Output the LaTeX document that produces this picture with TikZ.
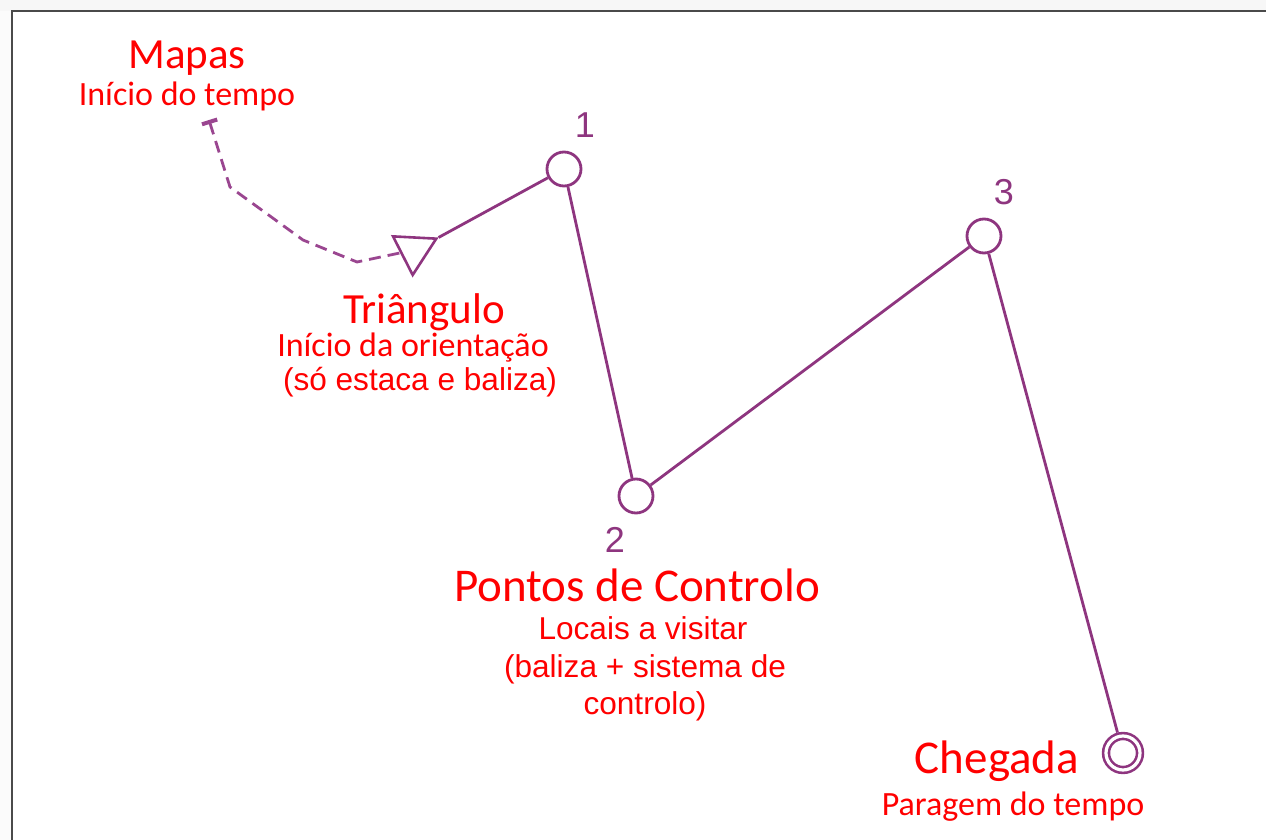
\documentclass[tikz,border=0pt]{standalone}
\usepackage{fontspec}
\setmainfont{Carlito}
\newfontfamily\arialfont{Liberation Sans}
\usepackage{tikz}
\usetikzlibrary{positioning,arrows.meta,shapes.geometric}
\definecolor{RoutePurple}{HTML}{8E357F}
\definecolor{DashPurple}{HTML}{9A4690}
\definecolor{LabelRed}{HTML}{FF0000}
\definecolor{FrameGray}{HTML}{4A4A4A}

\begin{document}
\begin{tikzpicture}[x=0.5pt, y=-0.5pt,
  every node/.style={inner sep=0pt},
  CP/.style={draw=RoutePurple, circle, line width=1.4pt,
             minimum size=17pt},
  FIN/.style={draw=RoutePurple, circle, line width=1.3pt,
              double=white, double distance=1.6pt,
              minimum size=17pt, outer sep=2.1pt},
  TRI/.style={draw=RoutePurple, regular polygon, regular polygon sides=3,
              shape border rotate=177, line width=1.3pt,
              minimum size=25pt},
  NUM/.style={font=\arialfont\fontsize{18}{20}\selectfont,
              text=RoutePurple, anchor=base},
  BIG/.style={font=\fontsize{21.5}{24}\selectfont, text=LabelRed, anchor=base},
  HEAD/.style={font=\fontsize{23.5}{26}\selectfont, text=LabelRed, anchor=base},
  SUB/.style={font=\fontsize{17}{20}\selectfont, text=LabelRed, anchor=base},
  ASUB/.style={font=\arialfont\fontsize{15.8}{18.5}\selectfont,
               text=LabelRed, anchor=base},
  leg/.style={RoutePurple, line width=1.4pt},
  RT/.style={DashPurple, line width=1.4pt, dash pattern=on 6pt off 3.5pt,
             {Bar[width=8pt, line width=2pt]}-},
]

  % Frame
  \useasboundingbox (0,0) rectangle (1266,840);
  \fill[gray!6] (0,0) rectangle (1266,11);
  \fill[gray!3] (0,11) rectangle (12,840);
  \draw[FrameGray, line width=1pt] (12,840) -- (12,11) -- (1266,11);

  % Main nodes
  \node[TRI] (tri) at (414,250) {};
  \node[CP]  (c1)  at (564,169) {};
  \node[CP]  (c2)  at (636,496) {};
  \node[CP]  (c3)  at (984,236) {};
  \node[FIN] (fin) at (1123,753) {};

  % Route to the triangle
  \coordinate (mapstart) at (209,120);
  \coordinate (bend1) at (230,187);
  \coordinate (bend2) at (303,240);
  \coordinate (bend3) at (357,262);

  % Legs
  \draw[RT] (mapstart) -- (bend1) -- (bend2) -- (bend3) -- (tri);
  \draw[leg] (tri.corner 2) -- (c1);
  \draw[leg] (c1) -- (c2);
  \draw[leg] (c2) -- (c3);
  \draw[leg] (c3) -- (fin);

  % Numbers
  \node[NUM] (n1) at (585,138) {1};
  \node[NUM] (n2) at (615,552) {2};
  \node[NUM] (n3) at (1004,205) {3};

  % Labels
  \node[BIG] (mapas) at (187,69)  {Mapas};
  \node[SUB] (mapasb) at (187,106) {Início do tempo};

  \node[BIG]  (trilab)  at (424,323) {Triângulo};
  \node[SUB]  (trilabb) at (413,357) {Início da orientação};
  \node[ASUB] (trilabc) at (420,390) {(só estaca e baliza)};

  \node[HEAD] (cplab)  at (637,601) {Pontos de Controlo};
  \node[ASUB] (cplabb) at (643,639) {Locais a visitar};
  \node[ASUB] (cplabc) at (645,677) {(baliza + sistema de};
  \node[ASUB] (cplabd) at (645,714) {controlo)};

  \node[HEAD] (finlab)  at (997,773) {Chegada};
  \node[SUB]  (finlabb) at (1013,815) {Paragem do tempo};

\end{tikzpicture}
\end{document}
